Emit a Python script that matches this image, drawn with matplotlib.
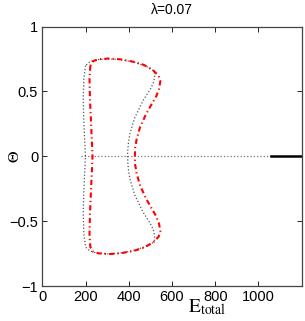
import numpy as np
import matplotlib
matplotlib.use('Agg')
import matplotlib.pyplot as plt

plt.rcParams['font.family'] = ['Liberation Sans', 'DejaVu Sans']
plt.rcParams['mathtext.fontset'] = 'stix'

lam_title = '\u03bb=0.07'

# red dash-dot loop (E_total, Theta), clockwise from top-left
red_x = [222, 218, 220, 224, 228, 231, 232, 231, 228, 224, 220, 218, 222,
         235, 260, 305, 360, 420, 470, 515, 538, 546, 540, 526, 505, 478, 451, 436, 429,
         428,
         429, 436, 451, 478, 505, 526, 540, 546, 538, 515, 470, 420, 360, 305, 260, 235, 222]
red_y = [0.70, 0.60, 0.45, 0.30, 0.15, 0.05, 0.00, -0.05, -0.15, -0.30, -0.45, -0.60, -0.70,
         -0.735, -0.748, -0.754, -0.748, -0.73, -0.705, -0.66, -0.62, -0.58, -0.52, -0.46, -0.40, -0.32, -0.22, -0.13, -0.06,
         0.00,
         0.06, 0.13, 0.22, 0.32, 0.40, 0.46, 0.52, 0.58, 0.62, 0.66, 0.705, 0.73, 0.748, 0.754, 0.748, 0.735, 0.70]

# grey dotted loop
grey_x = [200, 192, 189, 191, 195, 198, 199, 198, 195, 191, 189, 192, 200,
          220, 250, 305, 360, 420, 470, 505, 518, 520, 512, 500, 466, 428, 405, 398, 395,
          394,
          395, 398, 405, 428, 466, 500, 512, 520, 518, 505, 470, 420, 360, 305, 250, 220, 200]
grey_y = [0.70, 0.60, 0.45, 0.30, 0.15, 0.05, 0.00, -0.05, -0.15, -0.30, -0.45, -0.60, -0.70,
          -0.73, -0.745, -0.752, -0.746, -0.728, -0.70, -0.675, -0.65, -0.61, -0.56, -0.52, -0.43, -0.30, -0.175, -0.10, -0.04,
          0.00,
          0.04, 0.10, 0.175, 0.30, 0.43, 0.52, 0.56, 0.61, 0.65, 0.675, 0.70, 0.728, 0.746, 0.752, 0.745, 0.73, 0.70]

# Theta = 0 branch: dotted then solid
dot_x = [180, 1060]
dot_y = [0, 0]
solid_x = [1060, 1200]
solid_y = [0, 0]

xticks = [0, 200, 400, 600, 800, 1000]
yticks = [-1, -0.5, 0, 0.5, 1]
ytick_labels = ['\u22121', '\u22120.5', '0', '0.5', '1']

fig = plt.figure(figsize=(3.05, 3.21), dpi=100)
ax = fig.add_axes([0.139, 0.109, 0.850, 0.808])

ax.plot(dot_x, dot_y, ':', color='#777777', lw=0.9)
ax.plot(solid_x, solid_y, '-', color='k', lw=1.8)
ax.plot(grey_x, grey_y, ':', color='#555555', lw=0.9)
ax.plot(red_x, red_y, color='red', lw=1.5, linestyle=(0, (2.5, 1.5, 0.6, 1.5)))

ax.set_xlim(0, 1200)
ax.set_ylim(-1, 1)
ax.set_xticks(xticks)
ax.set_yticks(yticks)
ax.set_yticklabels(ytick_labels)
ax.tick_params(direction='in', length=3.5, width=0.6, labelsize=10.5,
               top=True, right=True, pad=3)
for s in ax.spines.values():
    s.set_color('#444444')
    s.set_linewidth(0.9)

ax.set_title(lam_title, fontsize=10, pad=9)
ax.set_xlabel(r'$\mathrm{E}_{\mathrm{total}}$', fontsize=14)
ax.xaxis.set_label_coords(0.634, -0.043)
ax.set_ylabel(r'$\Theta$', fontsize=11.5)
ax.yaxis.set_label_coords(-0.08, 0.5)

fig.savefig('out.png', dpi=100)
